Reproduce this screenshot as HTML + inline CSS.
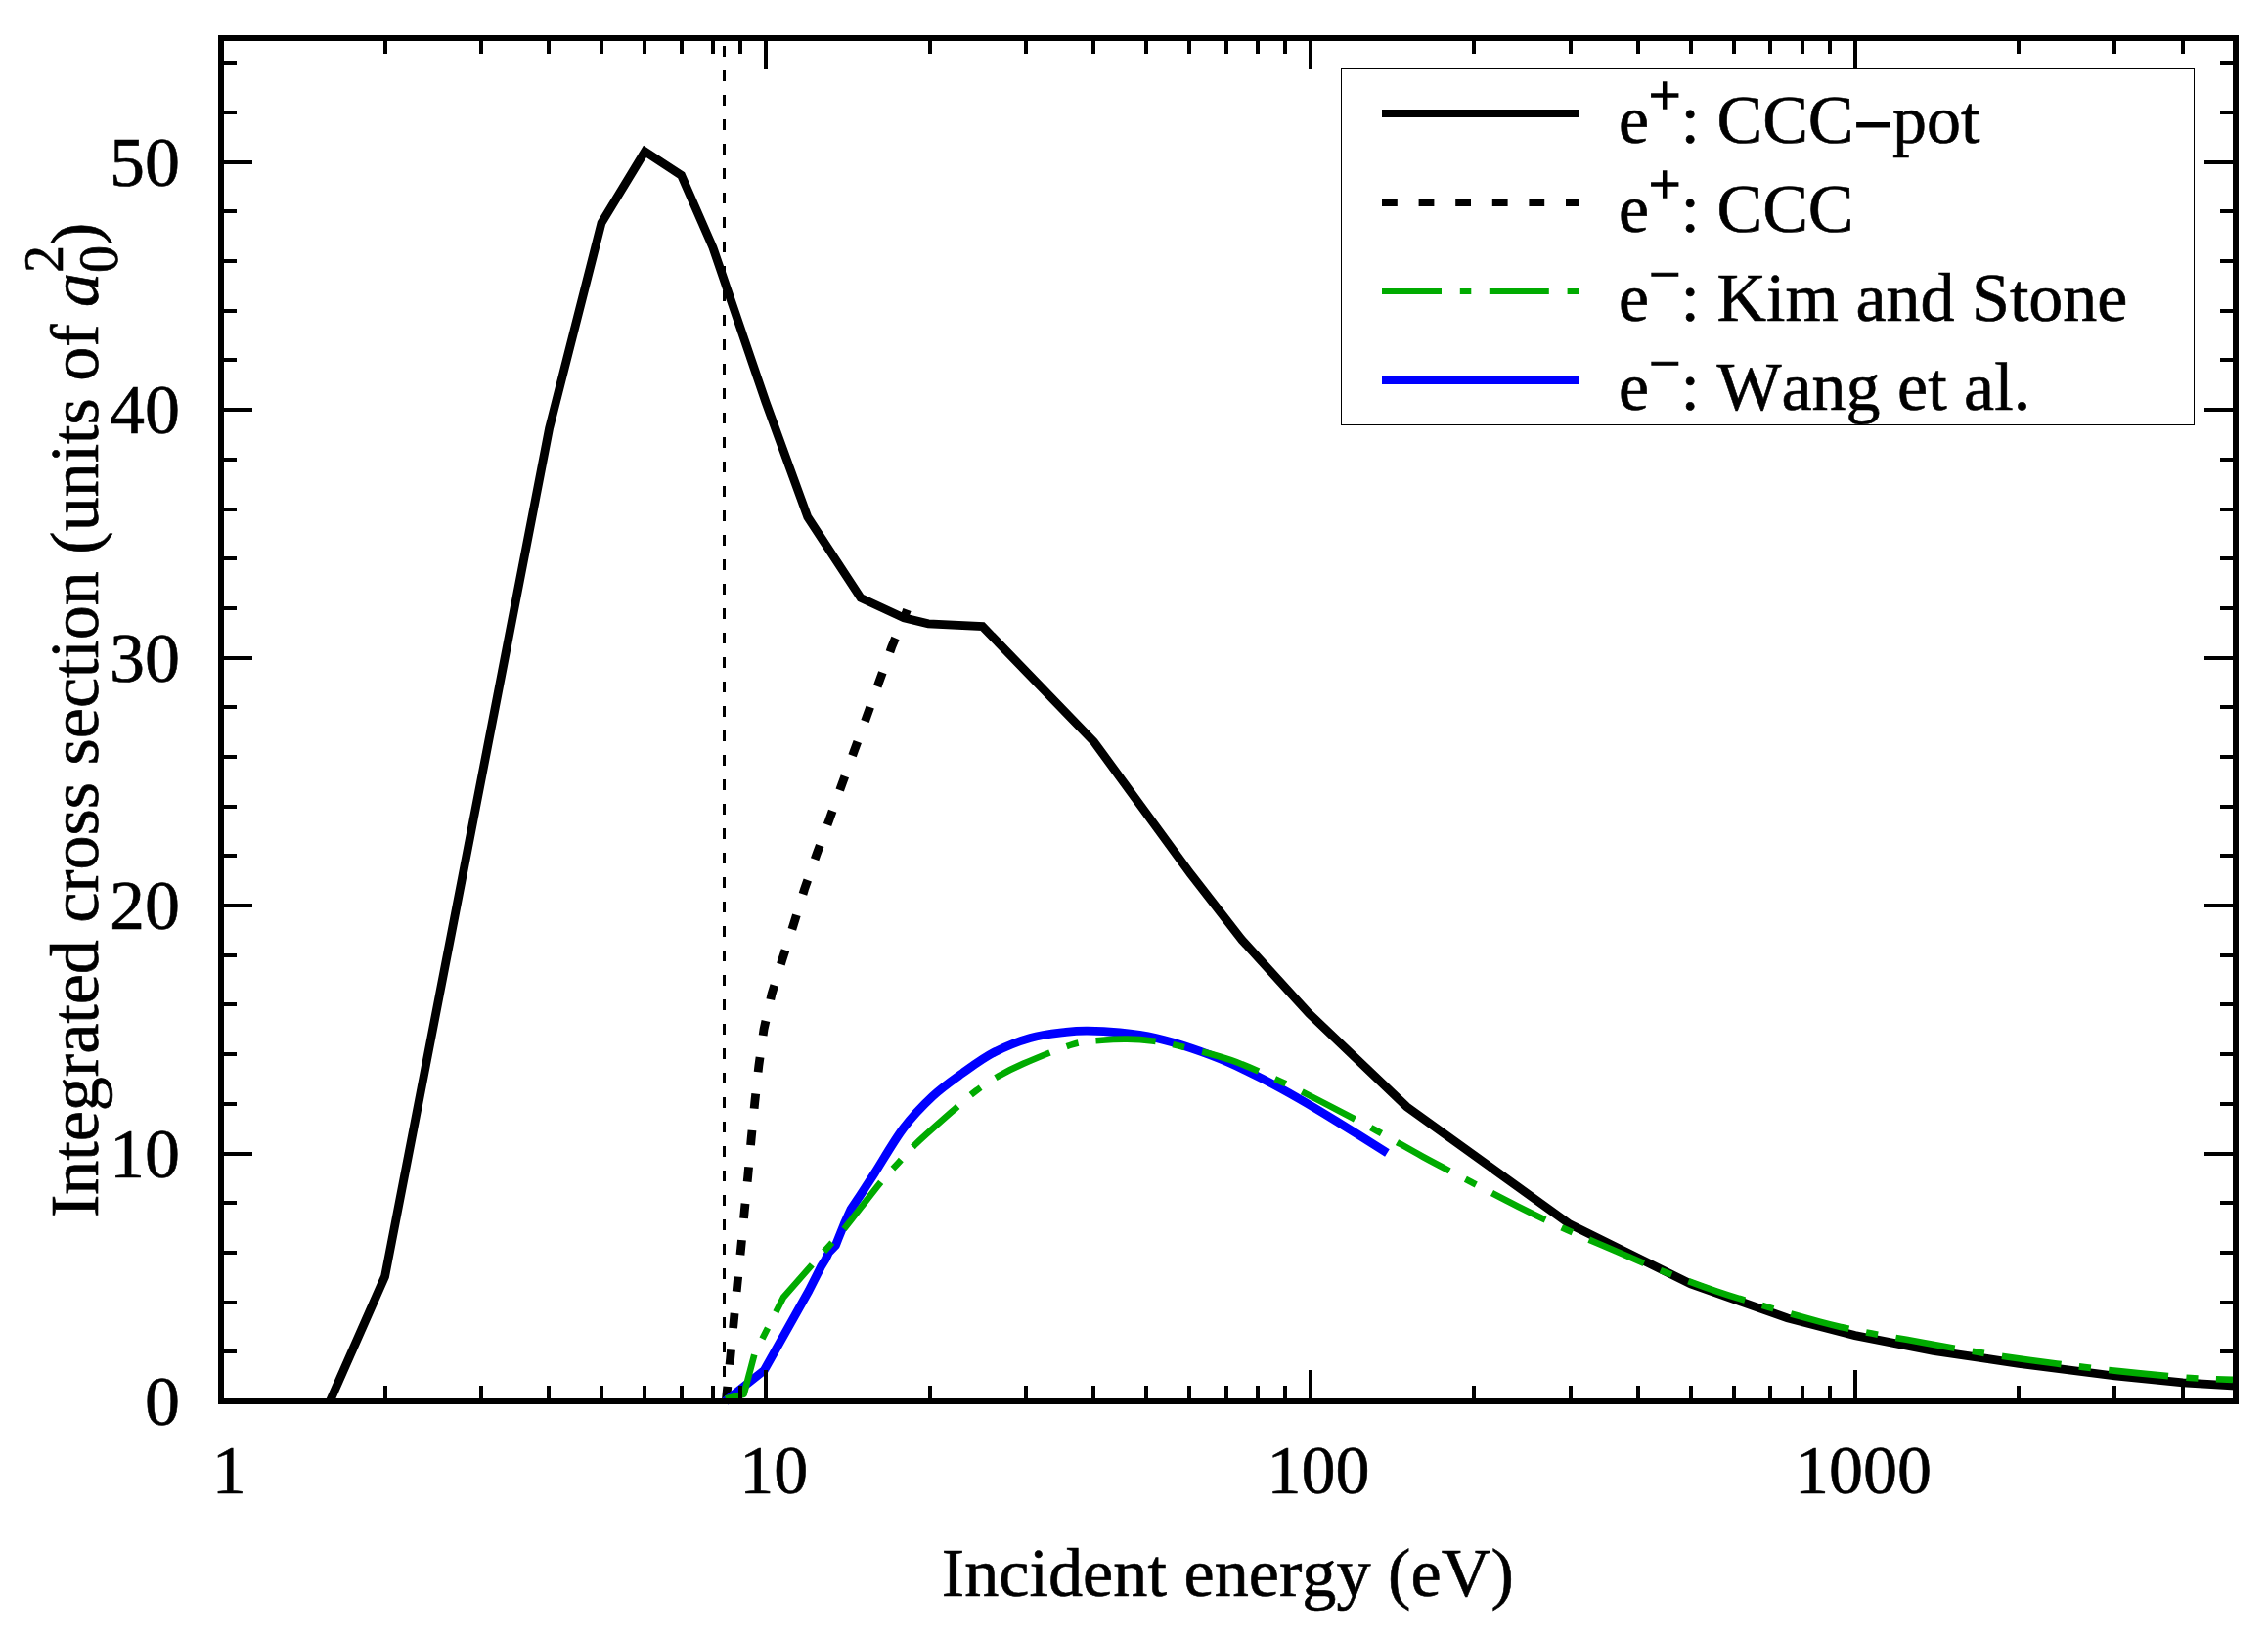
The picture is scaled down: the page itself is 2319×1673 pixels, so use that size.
<!DOCTYPE html>
<html lang="en"><head><meta charset="utf-8"><title>Integrated cross section</title>
<style>html,body{margin:0;padding:0;background:#fff;}svg{display:block;}text{font-family:"Liberation Serif", "DejaVu Serif", serif;font-size:70px;fill:#000;font-kerning:none;stroke:#000;stroke-width:0.6px;}</style>
</head><body>
<svg width="2319" height="1673" viewBox="0 0 2319 1673">
<rect x="0" y="0" width="2319" height="1673" fill="#fff"/>
<line x1="740.5" y1="1433" x2="740.5" y2="39" stroke="#000" stroke-width="3" stroke-dasharray="11 14" shape-rendering="crispEdges"/>
<polyline fill="none" stroke="#000" stroke-width="8.8" stroke-linejoin="miter" points="337.3,1433 393.6,1305.4 561.6,438 615,228 659.4,154.9 696.6,179.2 728.9,253 782.9,411 825.8,528.7 880,611.4 924.2,631.9 949.2,637.8 1004.6,640.6 1118.5,758.5 1217.3,893.5 1270,961.3 1338.5,1036.5 1438.4,1131.8 1605.2,1252 1728.7,1313 1827.5,1347.9 1896.7,1365.6 1976.8,1381.3 2064.3,1394.3 2162.4,1407 2232,1413.8 2286,1417.1"/>
<polyline fill="none" stroke="#000" stroke-width="8.8" stroke-dasharray="15.2 22.4" points="742.3,1433 743.4,1422 746.7,1389 750.2,1352 753.8,1314.3 757.7,1276.3 761.2,1239.2 764.8,1202.1 768.1,1165 771.7,1127.9 775.8,1090.2 781,1052.8 789,1016.6 800,980.9 811.5,945.2 822.5,909.4 834.9,873.7 847.8,838.7 860.5,803 873.4,767.8 886.3,732.6 899,697.1 911.6,661.9 926.5,626.1 927.5,623.5"/>
<path fill="none" stroke="#0000ff" stroke-width="8.8" stroke-linejoin="round" d="M741.5,1433 L781.3,1401.4 L827,1320 L839.4,1295.4 L844,1288 L847.5,1280.7 L854.5,1273.4 L857.4,1266 L863.3,1251.4 L869.9,1236.7 L879.8,1222 L894.1,1200 C901.4,1188.7 913.6,1167.2 923.5,1154 C933.4,1140.8 943.6,1130.4 953.7,1121 C963.8,1111.6 973.5,1105 984,1097.5 C994.5,1090 1005.1,1082 1016.7,1076 C1028.3,1070 1041.2,1064.8 1053.4,1061.4 C1065.6,1058 1080.2,1056.6 1090,1055.4 C1099.8,1054.2 1102.8,1054 1112,1054.1 C1121.2,1054.2 1133.4,1054.8 1145,1056 C1156.6,1057.2 1169.5,1058.8 1181.8,1061.5 C1194,1064.2 1206.3,1068 1218.5,1072.1 C1230.7,1076.2 1242.9,1080.7 1255.1,1086 C1267.3,1091.3 1279.6,1097.4 1291.8,1103.7 C1304,1110 1316.3,1116.8 1328.5,1123.8 C1340.7,1130.8 1350.2,1136.6 1365.2,1145.8 C1380.2,1155 1409.5,1173.4 1418.4,1178.9"/>
<path fill="none" stroke="#00ab00" stroke-width="6.6" stroke-dasharray="61.15 18.35 12.25 18.35" stroke-linejoin="round" d="M741.9,1430.5 L760.7,1425.7 L771.5,1384.5 L801,1326.7 L830.8,1292.8 L847.7,1274.2 L863.3,1256.5 C872.1,1245.6 891.6,1219.9 900.7,1208.8 C909.8,1197.7 911.9,1196.3 918,1189.7 C924.1,1183.1 927.4,1178.5 937.2,1169.1 C947.1,1159.7 967,1142.3 977.1,1133.4 C987.2,1124.5 990.9,1120.9 998,1115.5 C1005.1,1110.1 1012,1105.6 1020,1101 C1028,1096.4 1033.2,1093.4 1046,1087.9 C1058.8,1082.4 1083.2,1072.1 1096.7,1068.1 C1110.2,1064.1 1117.4,1064.6 1126.7,1063.7 C1136,1062.8 1143.8,1062.5 1152.4,1062.6 C1161,1062.7 1169.2,1063.2 1178.1,1064.4 C1187,1065.6 1192.1,1066.3 1205.6,1069.6 C1219,1072.9 1241.4,1078.1 1258.8,1084.2 C1276.2,1090.3 1293.7,1098.6 1310.2,1106.2 C1326.7,1113.8 1341.8,1121.8 1357.9,1130.1 C1374,1138.4 1390.8,1147.2 1407,1156 C1423.2,1164.8 1439,1174.2 1455.1,1183 C1471.2,1191.8 1487.4,1200 1503.6,1208.5 C1519.8,1217 1535.8,1225.5 1552.1,1233.7 C1568.4,1241.9 1585,1249.9 1601.7,1257.5 C1618.4,1265.1 1635.5,1272.2 1652.4,1279.5 C1669.3,1286.8 1686,1294.3 1703.1,1301.1 C1720.2,1307.9 1737.6,1314.4 1754.9,1320.3 C1772.2,1326.2 1789.1,1331.2 1806.7,1336.4 C1824.3,1341.6 1847.8,1348.1 1860.8,1351.6 C1873.8,1355.1 1875.9,1355.5 1884.8,1357.5 C1893.7,1359.5 1900,1360.9 1913.9,1363.5 C1927.8,1366.1 1950,1370 1968.1,1373.2 C1986.2,1376.4 2004.2,1379.8 2022.3,1382.8 C2040.4,1385.8 2058.3,1388.5 2076.5,1391 C2094.7,1393.5 2113.4,1395.9 2131.6,1398.1 C2149.8,1400.3 2167.7,1402.3 2185.8,1404.1 C2203.9,1405.9 2223.8,1407.9 2240,1409 C2256.2,1410.1 2275.8,1410.6 2283,1410.9"/>
<g stroke="#000" stroke-width="4" shape-rendering="crispEdges">
<line x1="226" y1="1382" x2="242" y2="1382"/>
<line x1="2286" y1="1382" x2="2270" y2="1382"/>
<line x1="226" y1="1332" x2="242" y2="1332"/>
<line x1="2286" y1="1332" x2="2270" y2="1332"/>
<line x1="226" y1="1281" x2="242" y2="1281"/>
<line x1="2286" y1="1281" x2="2270" y2="1281"/>
<line x1="226" y1="1230" x2="242" y2="1230"/>
<line x1="2286" y1="1230" x2="2270" y2="1230"/>
<line x1="226" y1="1180" x2="258" y2="1180"/>
<line x1="2286" y1="1180" x2="2254" y2="1180"/>
<line x1="226" y1="1129" x2="242" y2="1129"/>
<line x1="2286" y1="1129" x2="2270" y2="1129"/>
<line x1="226" y1="1078" x2="242" y2="1078"/>
<line x1="2286" y1="1078" x2="2270" y2="1078"/>
<line x1="226" y1="1027" x2="242" y2="1027"/>
<line x1="2286" y1="1027" x2="2270" y2="1027"/>
<line x1="226" y1="977" x2="242" y2="977"/>
<line x1="2286" y1="977" x2="2270" y2="977"/>
<line x1="226" y1="926" x2="258" y2="926"/>
<line x1="2286" y1="926" x2="2254" y2="926"/>
<line x1="226" y1="875" x2="242" y2="875"/>
<line x1="2286" y1="875" x2="2270" y2="875"/>
<line x1="226" y1="825" x2="242" y2="825"/>
<line x1="2286" y1="825" x2="2270" y2="825"/>
<line x1="226" y1="774" x2="242" y2="774"/>
<line x1="2286" y1="774" x2="2270" y2="774"/>
<line x1="226" y1="723" x2="242" y2="723"/>
<line x1="2286" y1="723" x2="2270" y2="723"/>
<line x1="226" y1="673" x2="258" y2="673"/>
<line x1="2286" y1="673" x2="2254" y2="673"/>
<line x1="226" y1="622" x2="242" y2="622"/>
<line x1="2286" y1="622" x2="2270" y2="622"/>
<line x1="226" y1="571" x2="242" y2="571"/>
<line x1="2286" y1="571" x2="2270" y2="571"/>
<line x1="226" y1="521" x2="242" y2="521"/>
<line x1="2286" y1="521" x2="2270" y2="521"/>
<line x1="226" y1="470" x2="242" y2="470"/>
<line x1="2286" y1="470" x2="2270" y2="470"/>
<line x1="226" y1="419" x2="258" y2="419"/>
<line x1="2286" y1="419" x2="2254" y2="419"/>
<line x1="226" y1="368" x2="242" y2="368"/>
<line x1="2286" y1="368" x2="2270" y2="368"/>
<line x1="226" y1="318" x2="242" y2="318"/>
<line x1="2286" y1="318" x2="2270" y2="318"/>
<line x1="226" y1="267" x2="242" y2="267"/>
<line x1="2286" y1="267" x2="2270" y2="267"/>
<line x1="226" y1="216" x2="242" y2="216"/>
<line x1="2286" y1="216" x2="2270" y2="216"/>
<line x1="226" y1="166" x2="258" y2="166"/>
<line x1="2286" y1="166" x2="2254" y2="166"/>
<line x1="226" y1="115" x2="242" y2="115"/>
<line x1="2286" y1="115" x2="2270" y2="115"/>
<line x1="226" y1="64" x2="242" y2="64"/>
<line x1="2286" y1="64" x2="2270" y2="64"/>
<line x1="394" y1="1433" x2="394" y2="1417"/>
<line x1="394" y1="39" x2="394" y2="55"/>
<line x1="492" y1="1433" x2="492" y2="1417"/>
<line x1="492" y1="39" x2="492" y2="55"/>
<line x1="561" y1="1433" x2="561" y2="1417"/>
<line x1="561" y1="39" x2="561" y2="55"/>
<line x1="615" y1="1433" x2="615" y2="1417"/>
<line x1="615" y1="39" x2="615" y2="55"/>
<line x1="659" y1="1433" x2="659" y2="1417"/>
<line x1="659" y1="39" x2="659" y2="55"/>
<line x1="697" y1="1433" x2="697" y2="1417"/>
<line x1="697" y1="39" x2="697" y2="55"/>
<line x1="729" y1="1433" x2="729" y2="1417"/>
<line x1="729" y1="39" x2="729" y2="55"/>
<line x1="757" y1="1433" x2="757" y2="1417"/>
<line x1="757" y1="39" x2="757" y2="55"/>
<line x1="783" y1="1433" x2="783" y2="1401"/>
<line x1="783" y1="39" x2="783" y2="71"/>
<line x1="951" y1="1433" x2="951" y2="1417"/>
<line x1="951" y1="39" x2="951" y2="55"/>
<line x1="1049" y1="1433" x2="1049" y2="1417"/>
<line x1="1049" y1="39" x2="1049" y2="55"/>
<line x1="1118" y1="1433" x2="1118" y2="1417"/>
<line x1="1118" y1="39" x2="1118" y2="55"/>
<line x1="1172" y1="1433" x2="1172" y2="1417"/>
<line x1="1172" y1="39" x2="1172" y2="55"/>
<line x1="1216" y1="1433" x2="1216" y2="1417"/>
<line x1="1216" y1="39" x2="1216" y2="55"/>
<line x1="1254" y1="1433" x2="1254" y2="1417"/>
<line x1="1254" y1="39" x2="1254" y2="55"/>
<line x1="1286" y1="1433" x2="1286" y2="1417"/>
<line x1="1286" y1="39" x2="1286" y2="55"/>
<line x1="1314" y1="1433" x2="1314" y2="1417"/>
<line x1="1314" y1="39" x2="1314" y2="55"/>
<line x1="1340" y1="1433" x2="1340" y2="1401"/>
<line x1="1340" y1="39" x2="1340" y2="71"/>
<line x1="1507" y1="1433" x2="1507" y2="1417"/>
<line x1="1507" y1="39" x2="1507" y2="55"/>
<line x1="1606" y1="1433" x2="1606" y2="1417"/>
<line x1="1606" y1="39" x2="1606" y2="55"/>
<line x1="1675" y1="1433" x2="1675" y2="1417"/>
<line x1="1675" y1="39" x2="1675" y2="55"/>
<line x1="1729" y1="1433" x2="1729" y2="1417"/>
<line x1="1729" y1="39" x2="1729" y2="55"/>
<line x1="1773" y1="1433" x2="1773" y2="1417"/>
<line x1="1773" y1="39" x2="1773" y2="55"/>
<line x1="1810" y1="1433" x2="1810" y2="1417"/>
<line x1="1810" y1="39" x2="1810" y2="55"/>
<line x1="1843" y1="1433" x2="1843" y2="1417"/>
<line x1="1843" y1="39" x2="1843" y2="55"/>
<line x1="1871" y1="1433" x2="1871" y2="1417"/>
<line x1="1871" y1="39" x2="1871" y2="55"/>
<line x1="1897" y1="1433" x2="1897" y2="1401"/>
<line x1="1897" y1="39" x2="1897" y2="71"/>
<line x1="2064" y1="1433" x2="2064" y2="1417"/>
<line x1="2064" y1="39" x2="2064" y2="55"/>
<line x1="2162" y1="1433" x2="2162" y2="1417"/>
<line x1="2162" y1="39" x2="2162" y2="55"/>
<line x1="2232" y1="1433" x2="2232" y2="1417"/>
<line x1="2232" y1="39" x2="2232" y2="55"/>
</g>
<rect x="226" y="39" width="2060" height="1394" fill="none" stroke="#000" stroke-width="6" shape-rendering="crispEdges"/>
<rect x="1371.5" y="70.5" width="872" height="364" fill="#fff" stroke="#000" stroke-width="1" shape-rendering="crispEdges"/>
<line x1="1413" y1="116" x2="1614" y2="116" stroke="#000" stroke-width="8"/>
<line x1="1413" y1="207" x2="1614" y2="207" stroke="#000" stroke-width="8" stroke-dasharray="15.8 21.8"/>
<line x1="1413" y1="298" x2="1614" y2="298" stroke="#00ab00" stroke-width="6" stroke-dasharray="61 18.8 11.5 18.5"/>
<line x1="1413" y1="389" x2="1614" y2="389" stroke="#0000ff" stroke-width="8"/>
<text x="1655" y="146" xml:space="preserve">e<tspan font-size="57.5" stroke-width="1.6" dy="-29">+</tspan><tspan dy="29">: CCC<tspan dy="5.3" stroke-width="1.8">−</tspan><tspan dy="-5.3">pot</tspan></tspan></text>
<text x="1655" y="237" xml:space="preserve">e<tspan font-size="57.5" stroke-width="1.6" dy="-29">+</tspan><tspan dy="29">: CCC</tspan></text>
<text x="1655" y="328" xml:space="preserve">e<tspan font-size="57.5" stroke-width="1.2" dy="-28">−</tspan><tspan dy="28">: Kim and Stone</tspan></text>
<text x="1655" y="419" xml:space="preserve">e<tspan font-size="57.5" stroke-width="1.2" dy="-28">−</tspan><tspan dy="28">: Wang et al.</tspan></text>
<text x="184" y="1457.2" text-anchor="end" style="font-size:72px">0</text>
<text x="184" y="1203.7" text-anchor="end" style="font-size:72px">10</text>
<text x="184" y="950.3" text-anchor="end" style="font-size:72px">20</text>
<text x="184" y="696.8" text-anchor="end" style="font-size:72px">30</text>
<text x="184" y="443.4" text-anchor="end" style="font-size:72px">40</text>
<text x="184" y="189.9" text-anchor="end" style="font-size:72px">50</text>
<text x="234.3" y="1527" text-anchor="middle">1</text>
<text x="791.2" y="1527" text-anchor="middle">10</text>
<text x="1348.1" y="1527" text-anchor="middle">100</text>
<text x="1905" y="1527" text-anchor="middle">1000</text>
<text x="962.8" y="1632" textLength="585" lengthAdjust="spacingAndGlyphs">Incident energy (eV)</text>
<text transform="translate(100,1245) rotate(-90)" x="0" y="0" xml:space="preserve">Integrated cross section (units of <tspan font-style="italic">a</tspan><tspan font-size="56" dy="20">0</tspan><tspan font-size="56" dx="-28" dy="-56">2</tspan><tspan dy="36">)</tspan></text>
</svg>
</body></html>
